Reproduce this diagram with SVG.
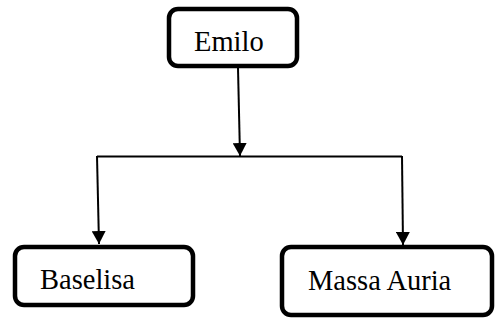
<svg xmlns="http://www.w3.org/2000/svg" width="496" height="322" viewBox="0 0 496 322">
<style>
.box{fill:#fff;stroke:#000;stroke-width:4.5}
.lbl{font-family:"Liberation Serif","Times New Roman",serif;font-size:28.5px;fill:#000}
.ln{fill:none;stroke:#000;stroke-width:2}
</style>
<defs>
<marker id="ah" markerUnits="userSpaceOnUse" markerWidth="16" markerHeight="14" refX="13" refY="7" orient="auto">
<path d="M0,0 L13,7 L0,14 Z" fill="#000"/>
</marker>
</defs>
<g id="connectors">
<path class="ln" d="M238,68 L240,156" marker-end="url(#ah)"/>
<path class="ln" d="M97,156.5 L402,156.5"/>
<path class="ln" d="M97,156 L99,244" marker-end="url(#ah)"/>
<path class="ln" d="M402,156 L403,245" marker-end="url(#ah)"/>
</g>
<g id="emilo">
<rect class="box" x="169" y="9" width="128" height="57" rx="9"/>
<text class="lbl" x="194" y="51">Emilo</text>
</g>
<g id="baselisa">
<rect class="box" x="15" y="247" width="178" height="58" rx="9"/>
<text class="lbl" x="40" y="289">Baselisa</text>
</g>
<g id="massa-auria">
<rect class="box" x="282" y="247" width="210" height="68" rx="9"/>
<text class="lbl" x="308" y="290">Massa Auria</text>
</g>
</svg>
